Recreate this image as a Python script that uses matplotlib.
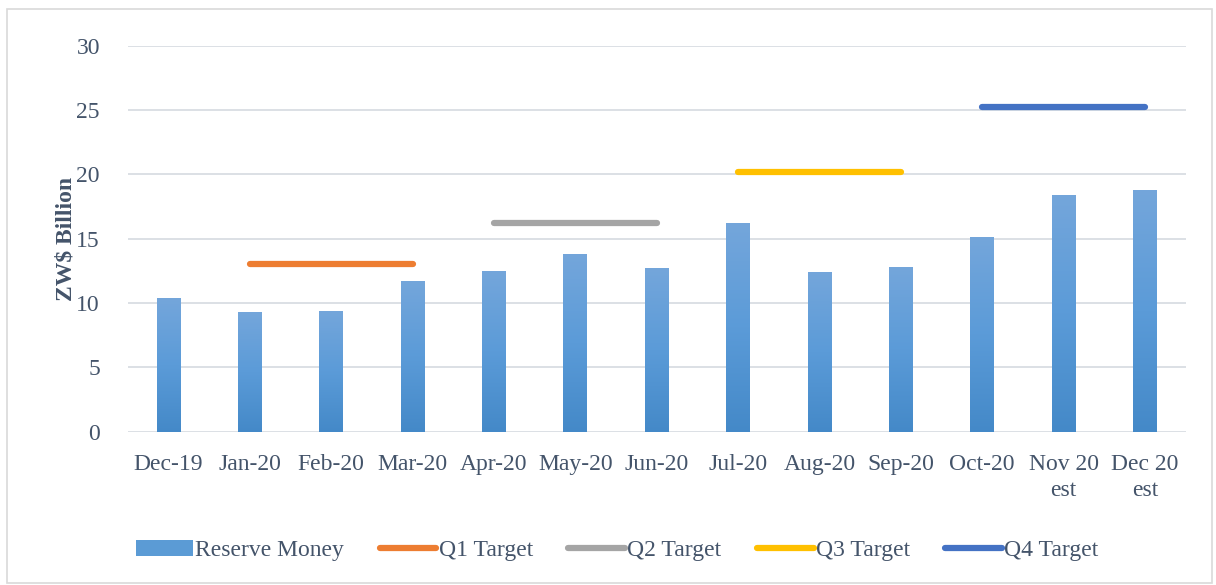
import matplotlib.pyplot as plt
import numpy as np
from matplotlib.colors import LinearSegmentedColormap
from matplotlib.patches import Rectangle

plt.rcParams['font.family'] = ['Liberation Serif', 'DejaVu Serif']

months = ["Dec-19", "Jan-20", "Feb-20", "Mar-20", "Apr-20", "May-20", "Jun-20",
          "Jul-20", "Aug-20", "Sep-20", "Oct-20", "Nov 20\nest", "Dec 20\nest"]
reserve_money = [10.4, 9.3, 9.4, 11.7, 12.5, 13.8, 12.7, 16.2, 12.4, 12.8, 15.1, 18.4, 18.8]

target_names = ["Q1 Target", "Q2 Target", "Q3 Target", "Q4 Target"]
target_values = [13.0, 16.2, 20.2, 25.25]
target_spans = [(1, 3), (4, 6), (7, 9), (10, 12)]
target_colors = ["#ED7D31", "#A5A5A5", "#FFC000", "#4472C4"]

text_color = "#44546A"
fs = 17

fig = plt.figure(figsize=(12.16, 5.85), dpi=100)
fig.patches.append(Rectangle((0.006, 0.004), 0.991, 0.98, transform=fig.transFigure,
                             fill=False, edgecolor="#D9D9D9", linewidth=1.2))
ax = fig.add_axes([0.105, 0.262, 0.87, 0.66])

x = np.arange(len(months))
bars = ax.bar(x, reserve_money, width=0.29, color="#5B9BD5", zorder=2, label="Reserve Money")

# vertical gradient inside each bar
cmap = LinearSegmentedColormap.from_list("grad", ["#4489C8", "#5B9BD8", "#74A6DB"])
grad = np.linspace(0, 1, 256).reshape(-1, 1)
for b in bars:
    x0, h, w = b.get_x(), b.get_height(), b.get_width()
    im = ax.imshow(grad, cmap=cmap, origin="lower", aspect="auto",
                   extent=[x0, x0 + w, 0, h], zorder=3)
    im.set_clip_path(b)

lines = []
for name, val, (s, e), c in zip(target_names, target_values, target_spans, target_colors):
    ln, = ax.plot([s, e], [val, val], color=c, linewidth=4.5, solid_capstyle="round",
                  zorder=4, label=name)
    lines.append(ln)

ax.set_xlim(-0.5, len(months) - 0.5)
ax.set_ylim(0, 30)
ax.set_yticks(range(0, 31, 5))
ax.set_xticks(x)
ax.set_xticklabels(months, linespacing=1.3)
ax.grid(axis="y", color="#D9DDE3", linewidth=1.3, zorder=0)
ax.set_axisbelow(True)
for s in ax.spines.values():
    s.set_visible(False)
ax.tick_params(length=0, labelsize=fs, colors=text_color)
ax.tick_params(axis="x", pad=16)
ax.tick_params(axis="y", pad=20)
ax.set_ylabel("ZW$ Billion", fontsize=fs, fontweight="bold", color=text_color, labelpad=0)

ax.legend([bars] + lines, ["Reserve Money"] + target_names,
          loc="upper center", bbox_to_anchor=(0.463, -0.225), ncol=5, frameon=False,
          fontsize=fs, labelcolor=text_color, handlelength=2.4, handletextpad=0.1,
          columnspacing=1.5)

fig.savefig("out.png", dpi=100)
